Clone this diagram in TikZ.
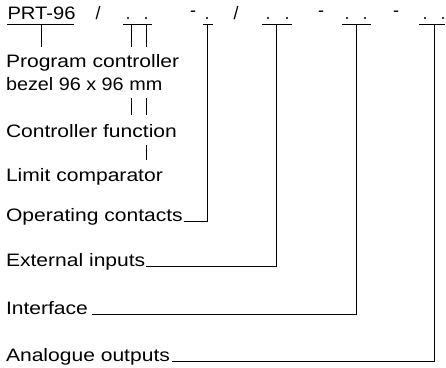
\documentclass[tikz,border=0pt]{standalone}
\usepackage{fontspec}
\usepackage{graphicx}
\setmainfont{Liberation Sans}
\newcommand{\wtxt}[2][1.17]{\scalebox{#1}[1]{#2}}
\begin{document}
\begin{tikzpicture}[x=1pt,y=-1pt,
  lbl/.style={anchor=base west,inner sep=0pt,outer sep=0pt,font=\fontsize{18}{20}\selectfont},
  sep/.style={anchor=base,inner sep=0pt,font=\fontsize{18}{20}\selectfont},
  dotm/.style={circle,fill=black,inner sep=0pt,minimum size=2.2pt},
  ln/.style={line width=0.9pt,black}]
\useasboundingbox (0,0) rectangle (446,367);

% code line
\node[lbl] (prt) at (7.5,19) {\wtxt[1.12]{PRT-96}};
\node[sep] (s1) at (98,19) {/};
\node[sep] (h1) at (193,16) {-};
\node[sep] (s2) at (236,19) {/};
\node[sep] (h2) at (321,16) {-};
\node[sep] (h3) at (396,16) {-};

\node[dotm] (d1a) at (128,18) {};
\node[dotm] (d1b) at (146,18) {};
\node[dotm] (d2)  at (207,18) {};
\node[dotm] (d3a) at (268,18) {};
\node[dotm] (d3b) at (287,18) {};
\node[dotm] (d4a) at (347,18) {};
\node[dotm] (d4b) at (365,18) {};
\node[dotm] (d5a) at (425,18) {};
\node[dotm] (d5b) at (443,18) {};

% underlines
\coordinate (u0l) at (7,24);   \coordinate (u0r) at (74,24);
\coordinate (u1l) at (123,24); \coordinate (u1r) at (152,24);
\coordinate (u2l) at (203,24); \coordinate (u2r) at (213,24);
\coordinate (u3l) at (262,24); \coordinate (u3r) at (292,24);
\coordinate (u4l) at (342,24); \coordinate (u4r) at (371,24);
\coordinate (u5l) at (419,24); \coordinate (u5r) at (445,24);
\foreach \u in {0,...,5} {\draw[ln] (u\u l) -- (u\u r);}

% stems
\coordinate (t0) at (41,24);
\coordinate (t1a) at (131,24);
\coordinate (t1b) at (146,24);
\coordinate (t2) at (207,24);
\coordinate (t3) at (276.5,24);
\coordinate (t4) at (356,24);
\coordinate (t5) at (434,24);

% descriptions
\node[lbl] (pc) at (6,67) {\wtxt{Program controller}};
\node[lbl] (bz) at (6,90) {\wtxt[1.1]{bezel 96 x 96 mm}};
\node[lbl] (cf) at (6,137) {\wtxt{Controller function}};
\node[lbl] (lc) at (6,181) {\wtxt{Limit comparator}};
\node[lbl] (oc) at (6,221) {\wtxt{Operating contacts}};
\node[lbl] (ei) at (6,266) {\wtxt{External inputs}};
\node[lbl] (if) at (6,314) {\wtxt{Interface}};
\node[lbl] (ao) at (6,361) {\wtxt{Analogue outputs}};

% connectors for first block
\draw[ln] (t0) -- (t0 |- 0,47);
\draw[ln] (t1a) -- (t1a |- 0,47);
\draw[ln] (t1b) -- (t1b |- 0,47);
\draw[ln] (t1a |- 0,98) -- (t1a |- 0,115);
\draw[ln] (t1b |- 0,98) -- (t1b |- 0,115);
\draw[ln] (t1b |- 0,145) -- (t1b |- 0,160);

% L-shaped connectors
\draw[ln] ([xshift=1pt]oc.base east) -- (t2 |- oc.base) -- (t2);
\draw[ln] ([xshift=1pt]ei.base east) -- (t3 |- ei.base) -- (t3);
\draw[ln] ([xshift=4pt]if.base east) -- (t4 |- if.base) -- (t4);
\draw[ln] ([xshift=2pt]ao.base east) -- (t5 |- ao.base) -- (t5);
\end{tikzpicture}
\end{document}
